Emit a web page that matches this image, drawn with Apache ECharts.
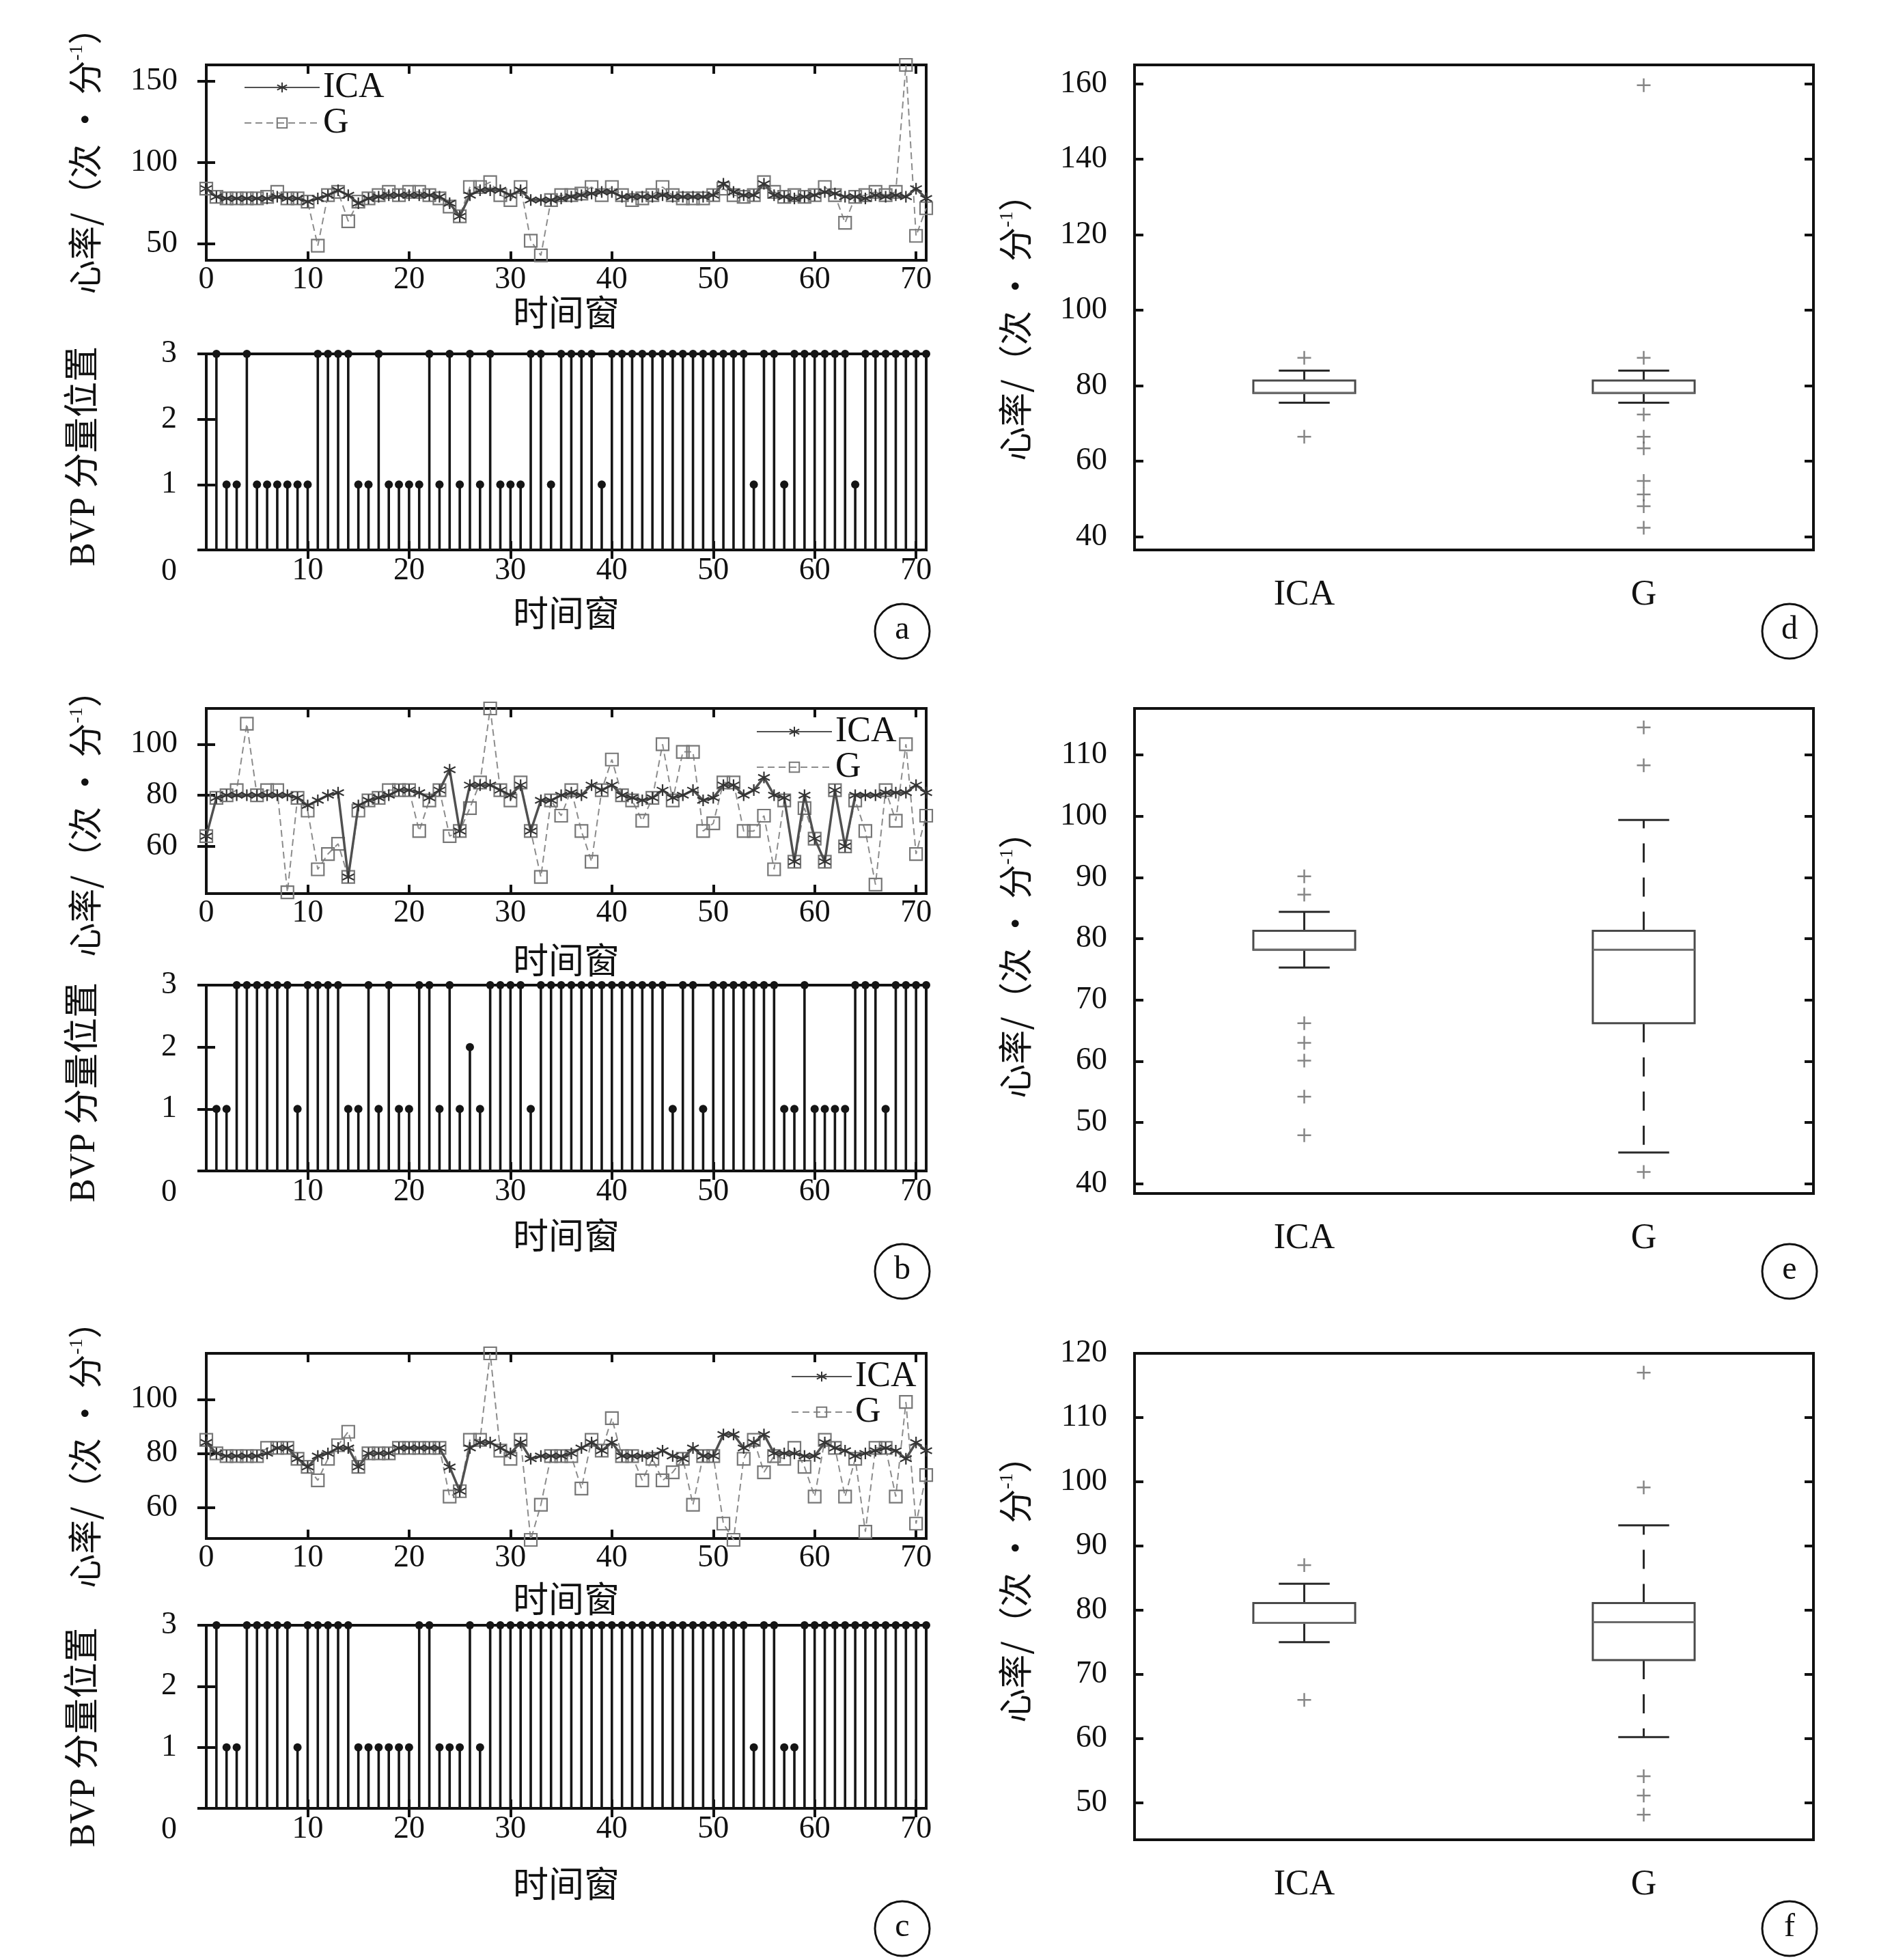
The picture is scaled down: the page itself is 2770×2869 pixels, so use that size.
<!DOCTYPE html>
<html><head><meta charset="utf-8">
<script src="https://cdn.jsdelivr.net/npm/echarts@6/dist/echarts.min.js"></script>
<style>html,body{margin:0;padding:0;background:#fff}#c{width:2770px;height:2869px}</style>
</head><body><div id="c"></div>
<script>
// ---------------- data ----------------
const windowsHR = [0,1,2,3,4,5,6,7,8,9,10,11,12,13,14,15,16,17,18,19,20,21,22,23,24,25,26,27,28,29,30,31,32,33,34,35,36,37,38,39,40,41,42,43,44,45,46,47,48,49,50,51,52,53,54,55,56,57,58,59,60,61,62,63,64,65,66,67,68,69,70,71];
const windowsBVP = [1,2,3,4,5,6,7,8,9,10,11,12,13,14,15,16,17,18,19,20,21,22,23,24,25,26,27,28,29,30,31,32,33,34,35,36,37,38,39,40,41,42,43,44,45,46,47,48,49,50,51,52,53,54,55,56,57,58,59,60,61,62,63,64,65,66,67,68,69,70,71];
const hrXTicks = [0,10,20,30,40,50,60,70];
const bvpXTicks = [10,20,30,40,50,60,70];
const bvpYTicks = [0,1,2,3];

// panel a
const icaA = [84,79,78,78,78,78,78,79,78,78, 76,78,80,83,80,75,78,79,80,80, 80,80,80,79,75,67,80,83,83,83, 80,83,77,77,77,78,79,80,81,82, 82,79,79,79,79,80,79,79,79,79, 80,87,82,80,80,87,80,79,78,79, 80,82,81,79,79,78,80,79,80,79, 84,78];
const gA   = [84,79,78,78,78,78,79,82,78,78, 76,49,80,82,64,76,78,80,82,80, 82,82,80,78,73,67,85,85,88,80, 77,85,52,43,77,80,80,81,85,80, 85,80,77,78,80,85,80,78,78,78, 80,84,80,79,80,88,82,79,80,79, 80,85,80,63,79,80,82,80,82,160, 55,72];
const bvpA = [3,1,1,3,1,1,1,1,1,1, 3,3,3,3,1,1,3,1,1,1, 1,3,1,3,1,3,1,3,1,1, 1,3,3,1,3,3,3,3,1,3, 3,3,3,3,3,3,3,3,3,3, 3,3,3,1,3,3,1,3,3,3, 3,3,3,1,3,3,3,3,3,3, 3];
const yTicksA = [50,100,150];

// panel b
const icaB = [64,79,80,80,80,80,80,80,80,79, 76,78,80,81,48,76,78,79,80,82, 82,81,79,82,90,66,84,84,84,82, 80,84,66,78,78,80,81,80,84,82, 84,80,79,78,79,82,79,80,82,78, 79,84,84,80,82,87,80,79,54,80, 63,54,82,60,80,80,80,81,81,81, 84,81];
const gB   = [64,79,80,82,108,80,82,82,42,79, 74,51,57,61,48,74,78,79,82,82, 82,66,78,82,64,66,75,85,114,82, 78,85,66,48,78,72,82,66,54,82, 94,80,78,70,79,100,78,97,97,66, 69,85,85,66,66,72,51,78,54,75, 63,54,82,60,78,66,45,82,70,100, 57,72];
const bvpB = [1,1,3,3,3,3,3,3,1,3, 3,3,3,1,1,3,1,3,1,1, 3,3,1,3,1,2,1,3,3,3, 3,1,3,3,3,3,3,3,3,3, 3,3,3,3,3,1,3,3,1,3, 3,3,3,3,3,3,1,1,3,1, 1,1,1,3,3,3,1,3,3,3, 3];
const yTicksB = [60,80,100];

// panel c
const icaC = [84,80,79,79,79,79,80,82,82,78, 75,79,80,82,82,75,80,80,80,82, 82,82,82,82,75,66,82,84,84,82, 80,84,78,79,79,79,80,82,84,81, 84,79,79,79,79,81,79,78,82,79, 79,87,87,82,84,87,80,80,80,79, 79,84,82,81,79,80,81,82,81,78, 84,81];
const gC   = [85,80,79,79,79,79,82,82,82,78, 75,70,78,83,88,75,80,80,80,82, 82,82,82,82,64,66,85,85,117,81, 78,85,48,61,79,79,79,67,85,81, 93,79,79,70,78,70,73,78,61,79, 79,54,48,78,85,73,79,78,82,75, 64,85,82,64,78,51,82,82,64,99, 54,72];
const bvpC = [3,1,1,3,3,3,3,3,1,3, 3,3,3,3,1,1,1,1,1,1, 3,3,1,1,1,3,1,3,3,3, 3,3,3,3,3,3,3,3,3,3, 3,3,3,3,3,3,3,3,3,3, 3,3,3,1,3,3,1,1,3,3, 3,3,3,3,3,3,3,3,3,3, 3];
const yTicksC = [60,80,100];

// box plots: [lower whisker, Q1, median, Q3, upper whisker]
const boxCats = ['ICA','G'];
const boxStatsD = [[75.5,78.1,78.1,81.4,84.0],[75.5,78.1,78.1,81.4,84.0]];
const outICA_D = [87.4,66.5];
const outG_D = [159.6,87.4,72.4,66.5,63.4,54.8,51.2,48.1,42.4];
const yTicksD = [40,60,80,100,120,140,160];

const boxStatsE = [[75.3,78.2,78.2,81.3,84.4],[45.1,66.2,78.2,81.3,99.4]];
const outICA_E = [90.2,87.2,66.2,63.0,60.1,54.2,47.9];
const outG_E = [114.5,108.3,41.9];
const yTicksE = [40,50,60,70,80,90,100,110];

const boxStatsF = [[75.0,78.0,78.0,81.1,84.1],[60.2,72.2,78.1,81.1,93.2]];
const outICA_F = [87.0,66.0];
const outG_F = [117.0,99.1,54.1,51.1,48.1];
const yTicksF = [50,60,70,80,90,100,110,120];

// ---------------- styling / layout ----------------
const FONT = "'Liberation Serif','Noto Sans CJK SC',serif";
const CJK = "'Noto Sans CJK SC','Liberation Serif',sans-serif";
const INK = '#111';
const STAR = 'path://M5,0L5,10M0.67,2.5L9.33,7.5M0.67,7.5L9.33,2.5';
const SQUARE = 'path://M0,0L10,0L10,10L0,10Z';
const PLUS = 'path://M0,5L10,5M5,0L5,10';

const grids = [], xAxes = [], yAxes = [], series = [], legends = [], graphics = [];

function addGrid(left, top, width, height) {
  grids.push({left, top, width, height, show: true, borderColor: INK, borderWidth: 4, backgroundColor: 'rgba(0,0,0,0)'});
  return grids.length - 1;
}
function tickStyle(vals) {
  return {show: true, inside: true, length: 13, lineStyle: {color: INK, width: 4}, customValues: vals};
}
function valueAxis(gi, position, min, max, tickVals, labelVals, labelOpts) {
  return {
    type: 'value', gridIndex: gi, position, min, max,
    axisLine: {show: false}, splitLine: {show: false},
    axisTick: tickStyle(tickVals),
    axisLabel: labelVals ? Object.assign({show: true, customValues: labelVals, fontFamily: FONT, fontSize: 46, color: INK}, labelOpts || {}) : {show: false}
  };
}
function lineSeries(name, xi, yi, xs, ys) {
  const ica = name === 'ICA';
  return {
    type: 'line', name, xAxisIndex: xi, yAxisIndex: yi,
    data: xs.map((x, i) => [x, ys[i]]),
    symbol: ica ? STAR : SQUARE, symbolSize: ica ? 17 : 18,
    showSymbol: true, showAllSymbol: true, clip: false,
    lineStyle: {color: ica ? '#505050' : '#8c8c8c', width: ica ? 3.5 : 2, type: ica ? 'solid' : [10, 6]},
    itemStyle: {color: 'rgba(0,0,0,0)', borderColor: ica ? '#333' : '#777', borderWidth: 2.2},
    emphasis: {disabled: true},
    z: ica ? 4 : 3
  };
}
function stemSeries(xi, yi, xs, ys) {
  return {
    type: 'custom', xAxisIndex: xi, yAxisIndex: yi, clip: false,
    data: xs.map((x, i) => [x, ys[i]]),
    encode: {x: 0, y: 1},
    renderItem: (params, api) => {
      const p0 = api.coord([api.value(0), 0]);
      const p1 = api.coord([api.value(0), api.value(1)]);
      return {type: 'group', children: [
        {type: 'line', shape: {x1: p0[0], y1: p0[1], x2: p1[0], y2: p1[1]}, style: {stroke: '#151515', lineWidth: 3.6}},
        {type: 'circle', shape: {cx: p1[0], cy: p1[1], r: 6}, style: {fill: '#151515'}}
      ]};
    }
  };
}

const L = 302, W = 1054;
function addHR(top, height, yMin, yMax, yTicks, ica, g, legendPos) {
  const gi = addGrid(L, top, W, height);
  const xb = xAxes.push(valueAxis(gi, 'bottom', 0, 71, hrXTicks, hrXTicks, {margin: 6})) - 1;
  xAxes.push(valueAxis(gi, 'top', 0, 71, hrXTicks, null));
  const yl = yAxes.push(valueAxis(gi, 'left', yMin, yMax, yTicks, yTicks, {margin: 42})) - 1;
  yAxes.push(valueAxis(gi, 'right', yMin, yMax, yTicks, null));
  series.push(lineSeries('G', xb, yl, windowsHR, g));
  series.push(lineSeries('ICA', xb, yl, windowsHR, ica));
  legends.push(Object.assign({
    data: ['ICA', 'G'], orient: 'vertical', itemGap: 0, itemWidth: legendPos.w, itemHeight: 18,
    selectedMode: false, textStyle: {fontFamily: FONT, fontSize: 52, color: INK, lineHeight: 44}, padding: 0
  }, {left: legendPos.left, top: legendPos.top}));
}
function addBVP(top, height, vals) {
  const gi = addGrid(L, top, W, height);
  const xb = xAxes.push(valueAxis(gi, 'bottom', 0, 71, bvpXTicks, bvpXTicks, {margin: 8})) - 1;
  xAxes.push(valueAxis(gi, 'top', 0, 71, bvpXTicks, null));
  const yl = yAxes.push(valueAxis(gi, 'left', 0, 3, bvpYTicks, bvpYTicks, {
    margin: 43,
    formatter: v => (v === 0 ? '{z|0}' : String(v)),
    rich: {z: {fontFamily: FONT, fontSize: 46, color: INK, padding: [64, 0, 0, 0]}}
  })) - 1;
  yAxes.push(valueAxis(gi, 'right', 0, 3, bvpYTicks, null));
  series.push(stemSeries(xb, yl, windowsBVP, vals));
}

const BL = 1661, BW = 994;
function addBox(top, height, yMin, yMax, yTicks, stats, outI, outG) {
  const gi = addGrid(BL, top, BW, height);
  const xb = xAxes.push({type: 'category', gridIndex: gi, position: 'bottom', data: boxCats, boundaryGap: true,
    axisLine: {show: false}, axisTick: {show: false}, splitLine: {show: false},
    axisLabel: {fontFamily: FONT, fontSize: 52, color: INK, margin: 40}}) - 1;
  xAxes.push({type: 'category', gridIndex: gi, position: 'top', data: boxCats, boundaryGap: true,
    axisLine: {show: false}, axisTick: {show: false}, axisLabel: {show: false}});
  const yl = yAxes.push(valueAxis(gi, 'left', yMin, yMax, yTicks, yTicks, {margin: 40})) - 1;
  yAxes.push(valueAxis(gi, 'right', yMin, yMax, yTicks, null));
  series.push({
    type: 'custom', xAxisIndex: xb, yAxisIndex: yl,
    data: stats.map((s, i) => [i].concat(s)),
    encode: {x: 0, y: [1, 2, 3, 4, 5]},
    renderItem: (params, api) => {
      const c = api.value(0);
      const band = api.size([1, 0])[0];
      const hw = band * 0.15, cw = band * 0.075;
      const pMin = api.coord([c, api.value(1)]);
      const pQ1 = api.coord([c, api.value(2)]);
      const pMed = api.coord([c, api.value(3)]);
      const pQ3 = api.coord([c, api.value(4)]);
      const pMax = api.coord([c, api.value(5)]);
      const x = pQ1[0];
      const wh = {stroke: '#2a2a2a', lineWidth: 3, lineDash: [28, 22]};
      const cap = {stroke: '#2a2a2a', lineWidth: 3};
      return {type: 'group', children: [
        {type: 'line', shape: {x1: x, y1: pQ3[1], x2: x, y2: pMax[1]}, style: wh},
        {type: 'line', shape: {x1: x, y1: pQ1[1], x2: x, y2: pMin[1]}, style: wh},
        {type: 'line', shape: {x1: x - cw, y1: pMax[1], x2: x + cw, y2: pMax[1]}, style: cap},
        {type: 'line', shape: {x1: x - cw, y1: pMin[1], x2: x + cw, y2: pMin[1]}, style: cap},
        {type: 'rect', shape: {x: x - hw, y: pQ3[1], width: 2 * hw, height: pQ1[1] - pQ3[1]}, style: {fill: '#fff', stroke: '#4a4a4a', lineWidth: 3}},
        {type: 'line', shape: {x1: x - hw, y1: pMed[1], x2: x + hw, y2: pMed[1]}, style: {stroke: '#6a6a6a', lineWidth: 3}}
      ]};
    }
  });
  series.push({
    type: 'scatter', xAxisIndex: xb, yAxisIndex: yl,
    data: outI.map(v => [0, v]).concat(outG.map(v => [1, v])),
    symbol: PLUS, symbolSize: 20,
    itemStyle: {color: 'rgba(0,0,0,0)', borderColor: '#666', borderWidth: 2.5},
    emphasis: {disabled: true}
  });
}

addHR(95, 286, 40, 160, yTicksA, icaA, gA, {left: 357, top: 102, w: 110});
addBVP(518, 287, bvpA);
addHR(1037, 271, 41.5, 114, yTicksB, icaB, gB, {left: 1107, top: 1045, w: 110});
addBVP(1442, 272, bvpB);
addHR(1981, 271, 48.5, 117, yTicksC, icaC, gC, {left: 1158, top: 1989, w: 88});
addBVP(2379, 268, bvpC);
addBox(95, 710, 36.5, 165, yTicksD, boxStatsD, outICA_D, outG_D);
addBox(1037, 710, 38.4, 117.6, yTicksE, boxStatsE, outICA_E, outG_E);
addBox(1981, 712, 44.2, 120, yTicksF, boxStatsF, outICA_F, outG_F);

// ---------------- text graphics ----------------
function txt(x, y, text, opts) {
  graphics.push(Object.assign({type: 'text', x, y, style: Object.assign({text, fill: INK, align: 'center', verticalAlign: 'middle', fontFamily: CJK, fontSize: 52}, opts && opts.style)}, opts && opts.el));
}
const hrLabel = '{m|心率/（次 · 分}{s|-1}{m|）}';
const hrRich = {m: {fontFamily: CJK, fontSize: 50, fill: INK}, s: {fontFamily: FONT, fontSize: 28, fill: INK, verticalAlign: 'top'}};
[457, 897, 1405, 1808, 2340, 2757].forEach(y => txt(829, y, '时间窗', {style: {fontSize: 52}}));
[[124, 223], [124, 1193], [124, 2117]].forEach(p => txt(p[0], p[1], hrLabel, {style: {rich: hrRich}, el: {rotation: Math.PI / 2}}));
[[124, 668], [124, 1599], [124, 2543]].forEach(p => txt(p[0], p[1], 'BVP 分量位置', {style: {fontFamily: FONT, fontSize: 52}, el: {rotation: Math.PI / 2}}));
[[1486, 467], [1486, 1400], [1486, 2314]].forEach(p => txt(p[0], p[1], hrLabel, {style: {rich: hrRich}, el: {rotation: Math.PI / 2}}));
[['a', 1321, 924], ['d', 2620, 924], ['b', 1321, 1861], ['e', 2620, 1861], ['c', 1321, 2823], ['f', 2620, 2823]].forEach(p => {
  graphics.push({type: 'circle', shape: {cx: p[1], cy: p[2], r: 40}, style: {fill: '#fff', stroke: INK, lineWidth: 3}});
  graphics.push({type: 'text', x: p[1], y: p[2] - 2, style: {text: p[0], fill: INK, fontFamily: FONT, fontSize: 48, align: 'center', verticalAlign: 'middle'}});
});

const chart = echarts.init(document.getElementById('c'), null, {renderer: 'canvas'});
chart.setOption({
  animation: false,
  backgroundColor: '#fff',
  textStyle: {fontFamily: FONT},
  grid: grids, xAxis: xAxes, yAxis: yAxes, series, legend: legends, graphic: graphics
});
</script></body></html>
